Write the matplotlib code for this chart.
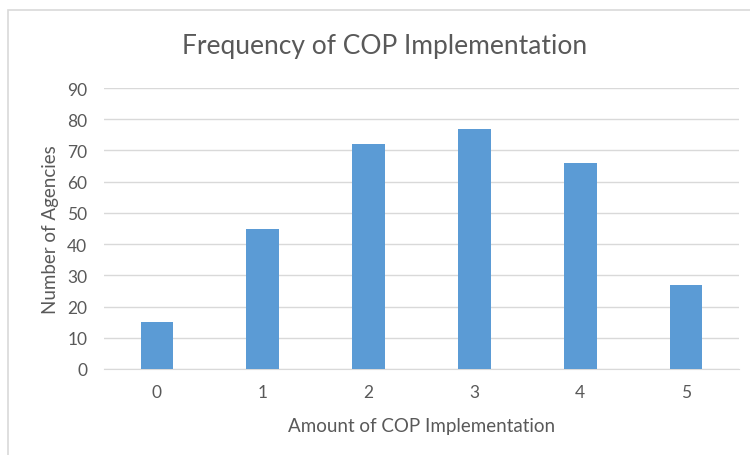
import matplotlib
matplotlib.use("Agg")
import matplotlib.pyplot as plt
import matplotlib.patches as mpatches

# COP implementation survey counts
categories = ["0", "1", "2", "3", "4", "5"]
agencies = [15, 45, 72, 77, 66, 27]
y_ticks = list(range(0, 100, 10))

GRAY_TXT = "#595959"
GRID = "#d9d9d9"
BAR = "#5b9bd5"

plt.rcParams["font.family"] = ["Lato", "DejaVu Sans"]

fig = plt.figure(figsize=(7.5, 4.56), dpi=100)
ax = fig.add_axes([0.1387, 0.1886, 0.8466, 0.6162])

# chart frame, partly cut off at right and bottom
frame = mpatches.Rectangle((8 / 750, -0.02), 1.0, 1 - 11 / 456 + 0.02,
                           transform=fig.transFigure, fill=False,
                           edgecolor=GRID, lw=1.2, clip_on=False)
fig.patches.append(frame)

x = range(len(categories))
ax.bar(x, agencies, width=0.31, color=BAR, zorder=3)

ax.set_xlim(-0.5, len(categories) - 0.5)
ax.set_ylim(0, 90)
ax.set_yticks(y_ticks)
ax.set_xticks(list(x))
ax.set_xticklabels(categories)
ax.yaxis.grid(True, color=GRID, lw=1, zorder=0)
ax.tick_params(length=0, colors=GRAY_TXT, labelsize=12.5)
ax.tick_params(axis="x", pad=11)
ax.tick_params(axis="y", pad=12)

for side in ["top", "right", "left"]:
    ax.spines[side].set_visible(False)
ax.spines["bottom"].set_color(GRID)

ax.set_xlabel("Amount of COP Implementation", color=GRAY_TXT, fontsize=13.5, labelpad=12)
ax.set_ylabel("Number of Agencies", color=GRAY_TXT, fontsize=13.5, labelpad=6)
fig.text(0.513, 0.897, "Frequency of COP Implementation", ha="center", va="center",
         color=GRAY_TXT, fontsize=19)

fig.savefig("out.png", dpi=100)
